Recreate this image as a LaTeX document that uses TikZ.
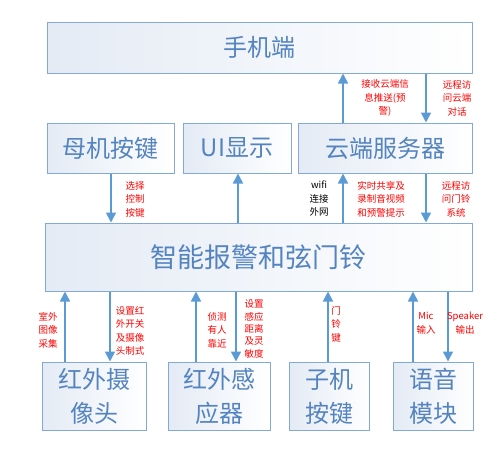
\documentclass[tikz,border=0pt]{standalone}
\usepackage{fontspec}
\setmainfont{Noto Sans CJK SC}
\usetikzlibrary{arrows.meta}
\definecolor{boxtext}{RGB}{84,132,192}
\definecolor{boxline}{RGB}{130,170,212}
\definecolor{boxfill}{RGB}{228,235,245}
\definecolor{arrcol}{RGB}{91,155,213}
\tikzset{
  box/.style={draw=boxline, line width=1pt, left color=boxfill, right color=white, text=boxtext, align=center, inner sep=0pt},
  bigtxt/.style={font=\fontsize{24}{34}\selectfont},
  hugetxt/.style={font=\fontsize{27}{34}\selectfont},
  arr/.style={draw=arrcol, line width=1.6pt, -{Triangle[width=10pt,length=10pt]}},
  lab/.style={text=red, align=center, inner sep=0pt, font=\fontsize{9.5}{13.5}\selectfont},
  blab/.style={lab, text=black}
}
\begin{document}
\begin{tikzpicture}[x=1pt,y=-1pt]
\useasboundingbox (0,0) rectangle (500,451);
% boxes
\node[box, bigtxt, minimum width=425pt, minimum height=51pt] (mobile) at (259.5,47.5) {手机端};
\node[box, bigtxt, minimum width=127pt, minimum height=50pt] (mkey) at (110.5,148) {母机按键};
\node[box, bigtxt, minimum width=108pt, minimum height=50pt] (ui) at (237,148) {UI显示};
\node[box, bigtxt, minimum width=174pt, minimum height=50pt] (cloud) at (385,148) {云端服务器};
\node[box, hugetxt, minimum width=427pt, minimum height=68pt] (main) at (258.5,257) {智能报警和弦门铃};
\node[box, bigtxt, minimum width=104pt, minimum height=68pt] (cam) at (94,396) {红外摄\\像头};
\node[box, bigtxt, minimum width=102pt, minimum height=68pt] (ir) at (219,396) {红外感\\应器};
\node[box, bigtxt, minimum width=80pt, minimum height=68pt] (sub) at (329,396) {子机\\按键};
\node[box, bigtxt, minimum width=80pt, minimum height=68pt] (voice) at (433,396) {语音\\模块};
% top arrows
\draw[arr] (cloud.north -| 343,0) -- (mobile.south -| 343,0);
\draw[arr] (mobile.south -| 426,0) -- (cloud.north -| 426,0);
\node[lab] (l1) at (385,98) {接收云端信\\息推送(预\\警)};
\node[lab] (l2) at (457,98) {远程访\\问云端\\对话};
% middle arrows
\draw[arr] (mkey.south -| 111,0) -- (main.north -| 111,0);
\draw[arr] (main.north -| 238,0) -- (ui.south -| 238,0);
\draw[arr] (main.north -| 343,0) -- (cloud.south -| 343,0);
\draw[arr] (cloud.south -| 426,0) -- (main.north -| 426,0);
\node[lab] (l3) at (135,199) {选择\\控制\\按键};
\node[blab] (l4) at (319,199) {wifi\\连接\\外网};
\node[lab] (l5) at (381,199) {实时共享及\\录制音视频\\和预警提示};
\node[lab] (l6) at (456,199) {远程访\\问门铃\\系统};
% bottom arrows
\draw[arr] (cam.north -| 65,0) -- (main.south -| 65,0);
\draw[arr] (main.south -| 110,0) -- (cam.north -| 110,0);
\draw[arr] (ir.north -| 196,0) -- (main.south -| 196,0);
\draw[arr] (main.south -| 236,0) -- (ir.north -| 236,0);
\draw[arr] (sub.north -| 328,0) -- (main.south -| 328,0);
\draw[arr] (voice.north -| 413,0) -- (main.south -| 413,0);
\draw[arr] (main.south -| 448,0) -- (voice.north -| 448,0);
\node[lab] (l7) at (48,330) {室外\\图像\\采集};
\node[lab] (l8) at (130,331) {设置红\\外开关\\及摄像\\头制式};
\node[lab] (l9) at (217,330) {侦测\\有人\\靠近};
\node[lab, font=\fontsize{9.5}{12.3}\selectfont] (l10) at (254,329) {设置\\感应\\距离\\及灵\\敏度};
\node[lab] (l11) at (336,324) {门\\铃\\键};
\node[lab] (l12) at (426,323) {Mic\\输入};
\node[lab] (l13) at (465,323) {Speaker\\输出};
\end{tikzpicture}
\end{document}
